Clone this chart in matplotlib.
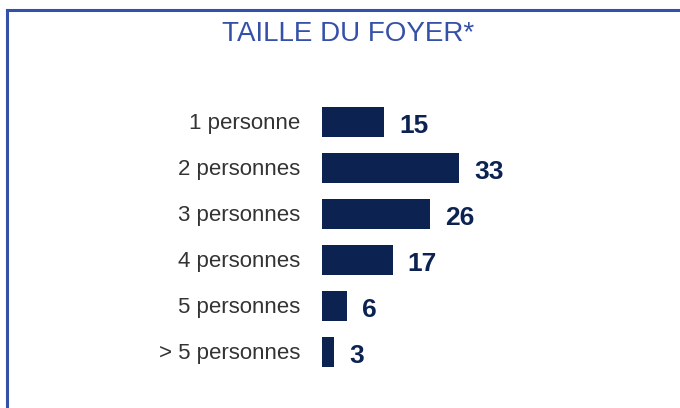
import matplotlib.pyplot as plt

categories = ['1 personne', '2 personnes', '3 personnes', '4 personnes',
              '5 personnes', '> 5 personnes']
values = [15, 33, 26, 17, 6, 3]
title = 'TAILLE DU FOYER*'

navy = '#0c2352'
blue = '#3550a8'
grey = '#333333'

plt.rcParams['font.family'] = ['Liberation Sans', 'DejaVu Sans']

fig = plt.figure(figsize=[6.8, 4.08], dpi=100)

# border (top and left only, like the reference)
fig.add_artist(plt.Line2D([7 / 680, 1], [1 - 10 / 408, 1 - 10 / 408],
                          color=blue, lw=2.2, transform=fig.transFigure))
fig.add_artist(plt.Line2D([7 / 680, 7 / 680], [0, 1 - 10 / 408],
                          color=blue, lw=2.2, transform=fig.transFigure))

fig.text(348 / 680, 1 - 34 / 408, title, ha='center', va='center',
         color=blue, fontsize=20)

ax = fig.add_axes([322 / 680, 33 / 408, 166 / 680, 276 / 408])
y = range(len(categories))
ax.barh(y, values, height=0.65, color=navy)
ax.set_xlim(0, 40)
ax.set_ylim(len(categories) - 0.5, -0.5)

for i, v in enumerate(values):
    ax.annotate(str(v), (v, i), xytext=(15, -4), textcoords='offset pixels',
                ha='left', va='center', fontsize=19, fontweight='bold',
                color=navy)
    ax.annotate(categories[i], (0, i), xytext=(-22, -1),
                textcoords='offset pixels', ha='right', va='center',
                fontsize=16, color=grey)

ax.axis('off')

plt.savefig('out.png', dpi=100)
